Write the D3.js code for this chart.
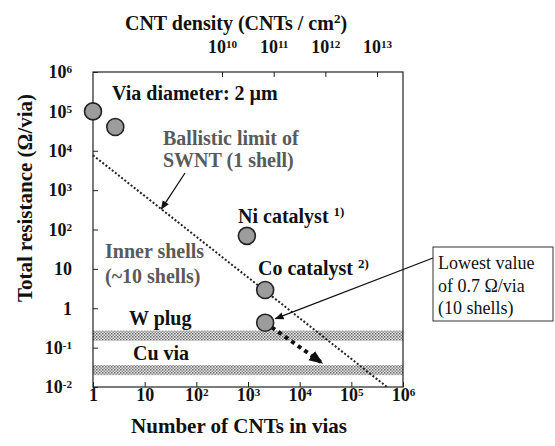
<!DOCTYPE html>
<html>
<head>
<meta charset="utf-8">
<script src="https://cdn.jsdelivr.net/npm/d3@7"></script>
<style>
  body { margin: 0; background: #fff; }
  svg text { font-family: "Times New Roman", "Liberation Serif", Tinos, "DejaVu Serif", serif; }
</style>
</head>
<body>
<div id="chart"></div>
<script>
// measured points: number of CNTs in the via vs total resistance
const cntCounts   = [1, 2.7, 950, 2150, 2150];
const resistances = [1e5, 4e4, 69, 2.9, 0.43];

// ballistic limit of a single-shell SWNT (dotted line)
const ballisticN = [1, 4.9e5];
const ballisticR = [7700, 0.01];

// expected trend from the lowest value (thick dotted arrow)
const trendN = [2150, 2.7e4];
const trendR = [0.43, 0.041];

// reference bands
const bandNames = ["W plug", "Cu via"];
const bandLow   = [0.15, 0.020];
const bandHigh  = [0.27, 0.036];

// tick exponents
const xTickExp = [0, 1, 2, 3, 4, 5, 6];
const yTickExp = [-2, -1, 0, 1, 2, 3, 4, 5, 6];
const densityTickExp = [10, 11, 12, 13];

const viaDiameterCm = 2e-4;

const width = 555, height = 446;
const plotLeft = 93, plotRight = 403, plotTop = 72, plotBottom = 387;
const serif = '"Times New Roman", "Liberation Serif", Tinos, "DejaVu Serif", serif';

const svg = d3.select("#chart").append("svg")
    .attr("width", width)
    .attr("height", height)
    .attr("font-family", serif);

const x = d3.scaleLog().domain([1, 1e6]).range([plotLeft, plotRight]);
const y = d3.scaleLog().domain([1e-2, 1e6]).range([plotBottom, plotTop]);

const viaArea = Math.PI * (viaDiameterCm / 2) ** 2;
const xTop = d3.scaleLog().domain([1 / viaArea, 1e6 / viaArea]).range([plotLeft, plotRight]);

// stipple pattern for bands
const defs = svg.append("defs");
const pat = defs.append("pattern")
    .attr("id", "stipple")
    .attr("patternUnits", "userSpaceOnUse")
    .attr("width", 3).attr("height", 3);
pat.append("rect").attr("width", 3).attr("height", 3).attr("fill", "#e4e4e4");
pat.append("rect").attr("width", 1.5).attr("height", 1.5).attr("fill", "#6a6a6a");
pat.append("rect").attr("x", 1.5).attr("y", 1.5).attr("width", 1.5).attr("height", 1.5).attr("fill", "#8a8a8a");

function addMarker(id, size) {
    defs.append("marker")
        .attr("id", id)
        .attr("viewBox", "0 0 10 10")
        .attr("refX", 9).attr("refY", 5)
        .attr("markerWidth", size).attr("markerHeight", size)
        .attr("markerUnits", "userSpaceOnUse")
        .attr("orient", "auto")
        .append("path")
        .attr("d", "M0,1 L10,5 L0,9 Z")
        .attr("fill", "#111");
}
addMarker("arrowThin", 9);
addMarker("arrowThick", 14);

// bands
svg.append("g").selectAll("rect")
    .data(bandNames)
    .join("rect")
    .attr("x", plotLeft)
    .attr("width", plotRight - plotLeft)
    .attr("y", (d, i) => y(bandHigh[i]))
    .attr("height", (d, i) => y(bandLow[i]) - y(bandHigh[i]))
    .attr("fill", "url(#stipple)");

// exponent labels like 10^5
function powLabel(textSel, e) {
    textSel.text(null);
    if (e === 0) { textSel.text("1"); return; }
    if (e === 1) { textSel.text("10"); return; }
    textSel.append("tspan").text("10");
    textSel.append("tspan")
        .attr("dy", "-0.45em")
        .attr("font-size", "0.62em")
        .text(e < 0 ? "-" + Math.abs(e) : e);
}

const tickStyle = g => {
    g.attr("font-family", serif);
    g.select(".domain").remove();
    g.selectAll(".tick line").attr("stroke", "#222").attr("stroke-width", 1);
    g.selectAll(".tick text")
        .attr("fill", "#111")
        .attr("font-size", 18)
        .attr("font-weight", "bold");
};

// bottom axis
const xAxisG = svg.append("g")
    .attr("transform", `translate(0,${plotBottom})`)
    .call(d3.axisBottom(x)
        .tickValues(xTickExp.map(e => 10 ** e))
        .tickSize(-5)
        .tickPadding(1))
    .call(tickStyle);
xAxisG.selectAll(".tick text").each(function (d) {
    powLabel(d3.select(this), Math.round(Math.log10(d)));
});

// left axis
const yAxisG = svg.append("g")
    .attr("transform", `translate(${plotLeft},0)`)
    .call(d3.axisLeft(y)
        .tickValues(yTickExp.map(e => 10 ** e))
        .tickSize(-5)
        .tickPadding(21))
    .call(tickStyle);
yAxisG.selectAll(".tick text").each(function (d) {
    powLabel(d3.select(this), Math.round(Math.log10(d)));
});

// top axis (CNT density)
const topAxisG = svg.append("g")
    .attr("transform", `translate(0,${plotTop})`)
    .call(d3.axisTop(xTop)
        .tickValues(densityTickExp.map(e => 10 ** e))
        .tickSize(-5)
        .tickPadding(19))
    .call(tickStyle);
topAxisG.selectAll(".tick text").each(function (d) {
    powLabel(d3.select(this), Math.round(Math.log10(d)));
});

// frame
svg.append("rect")
    .attr("x", plotLeft).attr("y", plotTop)
    .attr("width", plotRight - plotLeft).attr("height", plotBottom - plotTop)
    .attr("fill", "none")
    .attr("stroke", "#222")
    .attr("stroke-width", 1.2);

// ballistic limit line
const line = d3.line().x(d => x(d[0])).y(d => y(d[1]));
svg.append("path")
    .datum(ballisticN.map((n, i) => [n, ballisticR[i]]))
    .attr("d", line)
    .attr("fill", "none")
    .attr("stroke", "#222")
    .attr("stroke-width", 2)
    .attr("stroke-dasharray", "2,2");

// trend arrow
svg.append("path")
    .datum(trendN.map((n, i) => [n, trendR[i]]))
    .attr("d", line)
    .attr("fill", "none")
    .attr("stroke", "#111")
    .attr("stroke-width", 4)
    .attr("stroke-dasharray", "4,4")
    .attr("marker-end", "url(#arrowThick)");

// data points
svg.append("g").selectAll("circle")
    .data(cntCounts)
    .join("circle")
    .attr("cx", d => x(d))
    .attr("cy", (d, i) => y(resistances[i]))
    .attr("r", 8.5)
    .attr("fill", "#9c9c9c")
    .attr("stroke", "#222")
    .attr("stroke-width", 1.6);

// annotation texts
function note(xp, yp, lines, opts = {}) {
    const t = svg.append("text")
        .attr("x", xp).attr("y", yp)
        .attr("font-size", opts.size || 20)
        .attr("font-weight", opts.weight || "bold")
        .attr("fill", opts.color || "#111");
    lines.forEach((l, i) => {
        t.append("tspan").attr("x", xp).attr("dy", i === 0 ? 0 : (opts.lh || 22)).text(l);
    });
    return t;
}

note(112, 100, ["Via diameter: 2 \u00b5m"]);
note(163, 145, ["Ballistic limit of", "SWNT (1 shell)"], { color: "#5a5a5a" });
note(105, 258, ["Inner shells", "(~10 shells)"], { color: "#5a5a5a", lh: 25 });
note(129, 325, ["W plug"]);
note(133, 360, ["Cu via"]);

const ni = note(238, 223, ["Ni catalyst "]);
ni.append("tspan").attr("dy", -7).attr("font-size", 13).text("1)");
const co = note(258, 275, ["Co catalyst "]);
co.append("tspan").attr("dy", -7).attr("font-size", 13).text("2)");

// arrow to the ballistic line
const slope = Math.log10(ballisticR[1] / ballisticR[0]) / Math.log10(ballisticN[1] / ballisticN[0]);
const nHit = 21;
const rHit = ballisticR[0] * nHit ** slope;
svg.append("line")
    .attr("x1", 185).attr("y1", 173)
    .attr("x2", x(nHit)).attr("y2", y(rHit))
    .attr("stroke", "#111")
    .attr("stroke-width", 1.3)
    .attr("marker-end", "url(#arrowThin)");

// callout box for the lowest value
const box = { x: 433, y: 247, w: 120, h: 74 };
const lowX = x(cntCounts[4]), lowY = y(resistances[4]);
const ang = Math.atan2(258 - lowY, box.x - lowX);
svg.append("line")
    .attr("x1", box.x).attr("y1", 258)
    .attr("x2", lowX + 11 * Math.cos(ang)).attr("y2", lowY + 11 * Math.sin(ang))
    .attr("stroke", "#111")
    .attr("stroke-width", 1.3)
    .attr("marker-end", "url(#arrowThin)");
svg.append("rect")
    .attr("x", box.x).attr("y", box.y)
    .attr("width", box.w).attr("height", box.h)
    .attr("fill", "#fff")
    .attr("stroke", "#333")
    .attr("stroke-width", 1);
note(438, 269, ["Lowest value", "of 0.7 \u03a9/via", "(10 shells)"], { weight: "normal", size: 18, lh: 22.5 });

// axis titles
const topTitle = svg.append("text")
    .attr("x", 236).attr("y", 30)
    .attr("text-anchor", "middle")
    .attr("font-size", 20).attr("font-weight", "bold").attr("fill", "#111")
    .text("CNT density (CNTs / cm");
topTitle.append("tspan").attr("dy", -7).attr("font-size", 13).text("2");
topTitle.append("tspan").attr("dy", 7).text(")");

svg.append("text")
    .attr("x", 239).attr("y", 433)
    .attr("text-anchor", "middle")
    .attr("font-size", 21).attr("font-weight", "bold").attr("fill", "#111")
    .text("Number of CNTs in vias");

svg.append("text")
    .attr("transform", "translate(32,198) rotate(-90)")
    .attr("text-anchor", "middle")
    .attr("font-size", 21).attr("font-weight", "bold").attr("fill", "#111")
    .text("Total resistance (\u03a9/via)");
</script>
</body>
</html>
